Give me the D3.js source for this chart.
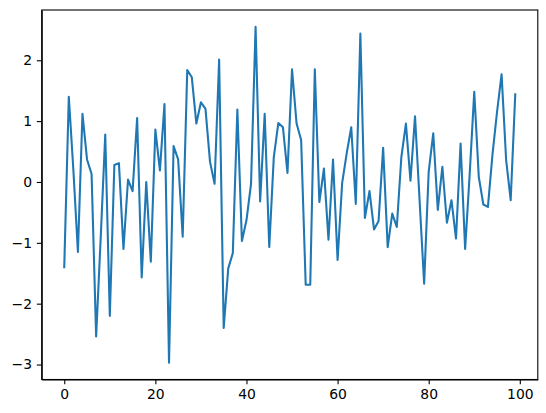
<!DOCTYPE html>
<html>
<head>
<meta charset="utf-8">
<script src="https://cdn.jsdelivr.net/npm/d3@7"></script>
<style>
  body { margin: 0; background: #fff; }
  .axis text { font-family: "DejaVu Sans", sans-serif; font-size: 13.9px; fill: #000; }
  .axis path, .axis line { stroke: #000; stroke-width: 1.1px; }
</style>
</head>
<body>
<div id="chart"></div>
<script>
// values, index 0..99
const series = [
  -1.40, 1.40, 0.20, -1.15, 1.12, 0.37, 0.13, -2.54, -0.92, 0.78,
  -2.20, 0.28, 0.31, -1.10, 0.04, -0.15, 1.05, -1.57, 0.00, -1.31,
  0.86, 0.19, 1.28, -2.97, 0.59, 0.37, -0.90, 1.84, 1.72, 0.96,
  1.31, 1.20, 0.33, -0.03, 2.01, -2.40, -1.42, -1.17, 1.19, -0.97,
  -0.63, -0.03, 2.55, -0.32, 1.12, -1.07, 0.41, 0.97, 0.90, 0.15,
  1.85, 0.96, 0.69, -1.69, -1.69, 1.85, -0.33, 0.22, -0.95, 0.37,
  -1.28, -0.02, 0.47, 0.90, -0.36, 2.44, -0.59, -0.15, -0.78, -0.64,
  0.56, -1.07, -0.52, -0.74, 0.41, 0.96, 0.02, 1.08, -0.30, -1.67,
  0.17, 0.80, -0.46, 0.25, -0.67, -0.30, -0.93, 0.63, -1.10, 0.13,
  1.48, 0.08, -0.37, -0.41, 0.45, 1.15, 1.77, 0.36, -0.30, 1.44
];
const xTicks = [0, 20, 40, 60, 80, 100];
const yTicks = [-3, -2, -1, 0, 1, 2];

const W = 546, H = 413;
const margin = { top: 10, right: 8.2, bottom: 33.5, left: 41.7 };
const width = W - margin.left - margin.right;
const height = H - margin.top - margin.bottom;

const data = series.map((v, i) => ({ x: i, y: v }));

const svg = d3.select("#chart").append("svg")
  .attr("width", W)
  .attr("height", H)
  .append("g")
  .attr("transform", `translate(${margin.left},${margin.top})`);

// matplotlib style 5% padding
const xExt = d3.extent(data, d => d.x);
const yExt = d3.extent(data, d => d.y);
const xPad = (xExt[1] - xExt[0]) * 0.05;
const yPad = (yExt[1] - yExt[0]) * 0.05;

const xScale = d3.scaleLinear()
  .domain([xExt[0] - xPad, xExt[1] + xPad])
  .range([0, width]);

const yScale = d3.scaleLinear()
  .domain([yExt[0] - yPad, yExt[1] + yPad])
  .range([height, 0]);

// line
const line = d3.line()
  .x(d => xScale(d.x))
  .y(d => yScale(d.y));

svg.append("path")
  .datum(data)
  .attr("fill", "none")
  .attr("stroke", "#1f77b4")
  .attr("stroke-width", 2.08)
  .attr("stroke-linejoin", "round")
  .attr("stroke-linecap", "square")
  .attr("d", line);

// axes
svg.append("g")
  .attr("class", "axis")
  .attr("transform", `translate(0,${height})`)
  .call(d3.axisBottom(xScale).tickValues(xTicks).tickFormat(d3.format("d"))
    .tickSize(4.86).tickPadding(4.86).tickSizeOuter(0));

svg.append("g")
  .attr("class", "axis")
  .call(d3.axisLeft(yScale).tickValues(yTicks).tickFormat(d3.format("d"))
    .tickSize(4.86).tickPadding(4.86).tickSizeOuter(0));

// frame
svg.append("rect")
  .attr("width", width)
  .attr("height", height)
  .attr("fill", "none")
  .attr("stroke", "#000")
  .attr("stroke-width", 1.1);
</script>
</body>
</html>
